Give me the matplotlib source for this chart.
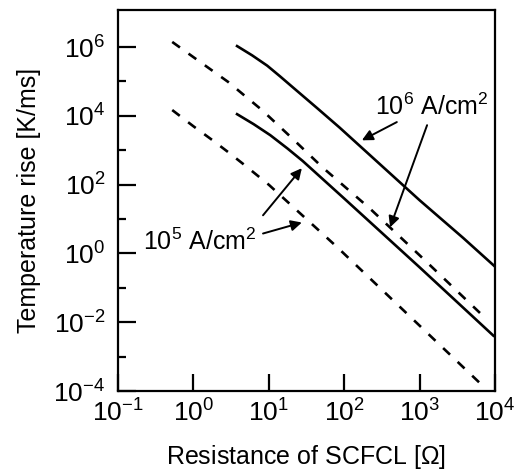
import numpy as np
import matplotlib
matplotlib.use("Agg")
import matplotlib.pyplot as plt
from matplotlib.ticker import NullFormatter, FixedLocator

plt.rcParams["font.family"] = ["Liberation Sans", "DejaVu Sans"]
plt.rcParams["mathtext.fontset"] = "custom"
plt.rcParams["mathtext.rm"] = "Liberation Sans"
plt.rcParams["mathtext.it"] = "Liberation Sans"
plt.rcParams["mathtext.default"] = "regular"

# values, as log10(R [ohm]) and log10(dT/dt [K/ms])
solid_1e6_logR = [0.58, 0.78, 0.98, 1.15, 1.32, 1.64, 1.94, 3.0, 3.58, 4.0]
solid_1e6_logT = [6.03, 5.76, 5.46, 5.15, 4.83, 4.23, 3.66, 1.55, 0.45, -0.38]

dashed_1e6_logR = [-0.28, 0.0, 0.46, 0.91, 1.31, 1.71, 2.34, 3.0, 3.84]
dashed_1e6_logT = [6.15, 5.71, 4.99, 4.17, 3.35, 2.51, 1.31, -0.05, -1.81]

solid_1e5_logR = [0.58, 0.8, 1.02, 1.25, 1.45, 2.0, 3.0, 3.98]
solid_1e5_logT = [4.05, 3.76, 3.44, 3.05, 2.69, 1.6, -0.4, -2.39]

dashed_1e5_logR = [-0.28, 0.0, 0.25, 0.46, 0.68, 1.0, 1.9, 3.84]
dashed_1e5_logT = [4.17, 3.70, 3.30, 2.95, 2.57, 2.0, 0.2, -3.85]

x_tick_exps = [-1, 0, 1, 2, 3, 4]
y_tick_exps = [-4, -2, 0, 2, 4, 6]
y_minor_exps = [-3, -1, 1, 3, 5]


def pw(a):
    return 10.0 ** np.asarray(a, dtype=float)


fig = plt.figure(figsize=(5.15, 4.74), dpi=100)
ax = fig.add_axes([0.229, 0.175, 0.732, 0.804])

lw = 1.9
ax.plot(pw(solid_1e6_logR), pw(solid_1e6_logT), color="black", lw=lw)
ax.plot(pw(solid_1e5_logR), pw(solid_1e5_logT), color="black", lw=lw)
ax.plot(pw(dashed_1e6_logR), pw(dashed_1e6_logT), color="black", lw=lw,
        dashes=(3.6, 4.0))
ax.plot(pw(dashed_1e5_logR), pw(dashed_1e5_logT), color="black", lw=lw,
        dashes=(3.6, 4.0))

ax.set_xscale("log")
ax.set_yscale("log")
ax.set_xlim(1e-1, 1e4)
ax.set_ylim(1e-4, 10 ** 7.08)

ax.xaxis.set_major_locator(FixedLocator(pw(x_tick_exps)))
ax.xaxis.set_minor_locator(FixedLocator([]))
ax.set_xticklabels([r"$10^{%d}$" % e for e in x_tick_exps])
ax.yaxis.set_major_locator(FixedLocator(pw(y_tick_exps)))
ax.yaxis.set_minor_locator(FixedLocator(pw(y_minor_exps)))
ax.yaxis.set_minor_formatter(NullFormatter())
ax.set_yticklabels([r"$10^{%d}$" % e for e in y_tick_exps])

ax.tick_params(axis="both", which="major", direction="in", width=1.6,
               labelsize=19)
ax.tick_params(axis="x", which="major", length=12, pad=6)
ax.tick_params(axis="y", which="major", length=13, pad=9)
ax.tick_params(axis="y", which="minor", direction="in", length=6, width=1.6)
ax.tick_params(top=False, right=False)

for s in ax.spines.values():
    s.set_linewidth(1.6)

ax.set_xlabel(r"Resistance of SCFCL [$\Omega$]", fontsize=18, labelpad=12)
ax.set_ylabel("Temperature rise [K/ms]", fontsize=18, labelpad=9)

# annotations
arrow = dict(arrowstyle="-|>", color="black", lw=1.4, mutation_scale=16,
             shrinkA=0, shrinkB=0)
ax.text(257, 10 ** 4.02, r"$10^{6}$ A/cm$^{2}$", fontsize=18,
        ha="left", va="baseline")
ax.annotate("", xy=(172, 10 ** 3.29), xytext=(500, 10 ** 3.82),
            arrowprops=arrow)
ax.annotate("", xy=(407, 10 ** 0.76), xytext=(1260, 10 ** 3.73),
            arrowprops=arrow)

ax.text(0.215, 10 ** 0.087, r"$10^{5}$ A/cm$^{2}$", fontsize=18,
        ha="left", va="baseline")
ax.annotate("", xy=(27.5, 10 ** 2.48), xytext=(8.4, 10 ** 1.11),
            arrowprops=arrow)
ax.annotate("", xy=(27.5, 10 ** 0.90), xytext=(8.4, 10 ** 0.58),
            arrowprops=arrow)

fig.savefig("out.png", dpi=100)
